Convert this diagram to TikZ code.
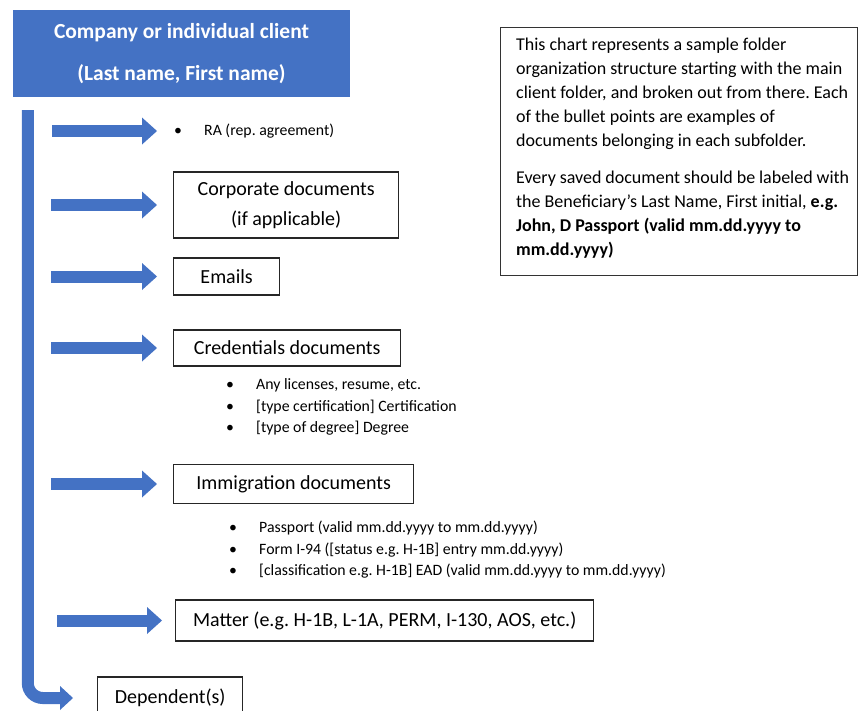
\documentclass[tikz,border=0pt]{standalone}
\usepackage{fontspec}
\setmainfont{Carlito}
\frenchspacing
\usetikzlibrary{positioning,arrows.meta}
\definecolor{folderblue}{HTML}{4472C4}
\newcommand{\docitem}[1]{\makebox[30pt][l]{\textbullet}#1}

\begin{document}
\begin{tikzpicture}[x=1pt, y=-1pt, on grid=true,
    folder/.style={draw=black!85, line width=1.3pt, inner sep=0pt, align=center, font=\fontsize{20}{30}\selectfont},
    doclist/.style={inner sep=0pt, align=left, font=\fontsize{15.8}{21.5}\selectfont},
    pointer/.style={draw=folderblue, line width=12pt, shorten >=16pt, -{Triangle[length=15pt, width=27pt, line width=0pt]}},
    spine/.style={draw=folderblue, line width=12pt, rounded corners=15pt, shorten >=24pt, -{Triangle[length=13pt, width=24pt, line width=0pt]}}]
    \useasboundingbox (0,0) rectangle (859,710);

    \node[fill=folderblue, text=white, inner sep=0pt, align=center, minimum width=337pt, minimum height=87pt,
        font=\bfseries\fontsize{21.5}{44}\selectfont] (client) at (181.5,53.5) {\raisebox{-2pt}{Company or individual client}\\(Last name, First name)};

    \node[folder, minimum width=225pt, minimum height=66pt, anchor=west] (corp) at (173,205) {Corporate documents\\(if applicable)};
    \node[folder, minimum width=106pt, minimum height=37pt, below=71.5pt of corp.west, anchor=west] (emails) {Emails};
    \node[folder, minimum width=227pt, minimum height=36pt, below=71.5pt of emails.west, anchor=west] (cred) {Credentials documents};
    \node[folder, minimum width=240pt, minimum height=39pt, below=136pt of cred.west, anchor=west] (immig) {Immigration documents};
    \node[folder, minimum width=418pt, minimum height=41pt, below right=136.5pt and 2pt of immig.west, anchor=west] (matter) {Matter (e.g. H-1B, L-1A, PERM, I-130, AOS, etc.)};
    \node[folder, minimum width=145pt, minimum height=42pt, below left=77.5pt and 78pt of matter.west, anchor=west] (dep) {Dependent(s)};

    \node[doclist, above right=74pt and 1pt of corp.west, anchor=west] (ra) {\docitem{RA (rep. agreement)}};
    \node[doclist, below right=12pt and 53pt of cred.south west, anchor=north west] (credlist) {\docitem{Any licenses, resume, etc.}\\\docitem{[type certification] Certification}\\\docitem{[type of degree] Degree}};
    \node[doclist, below right=17pt and 56pt of immig.south west, anchor=north west] (immiglist) {\docitem{Passport (valid mm.dd.yyyy to mm.dd.yyyy)}\\\docitem{Form I-94 ([status e.g. H-1B] entry mm.dd.yyyy)}\\\docitem{[classification e.g. H-1B] EAD (valid mm.dd.yyyy to mm.dd.yyyy)}};

    \node[draw=black!80, line width=1.3pt, inner xsep=8.5pt, inner ysep=9pt, anchor=north west] (note) at (500,27) {\parbox[c][230pt][t]{340pt}{\fontsize{18}{24}\selectfont\raggedright\leftskip=7pt
        \vspace*{1pt}This chart represents a sample folder\\
        organization structure starting with the main\\
        client folder, and broken out from there. Each\\
        of the bullet points are examples of\\
        documents belonging in each subfolder.\\[13pt]
        Every saved document should be labeled with\\
        the Beneficiary’s Last Name, First initial, \textbf{e.g.}\\
        \textbf{John, D Passport (valid mm.dd.yyyy to}\\
        \textbf{mm.dd.yyyy)}}};

    \coordinate[below right=13pt and 15pt of client.south west] (spine-top);
    \coordinate[left=122pt of ra.west] (ra-in);
    \coordinate[left=122pt of corp.west] (corp-in);
    \coordinate[left=122pt of emails.west] (emails-in);
    \coordinate[left=122pt of cred.west] (cred-in);
    \coordinate[left=122pt of immig.west] (immig-in);
    \coordinate[left=118pt of matter.west] (matter-in);

    \draw[spine] (spine-top) |- (dep.west);
    \draw[pointer, shorten >=17pt] (ra-in) -- (ra.west);
    \draw[pointer] (corp-in) -- (corp.west);
    \draw[pointer] (emails-in) -- (emails.west);
    \draw[pointer] (cred-in) -- (cred.west);
    \draw[pointer] (immig-in) -- (immig.west);
    \draw[pointer, shorten >=13pt] (matter-in) -- (matter.west);
\end{tikzpicture}
\end{document}
